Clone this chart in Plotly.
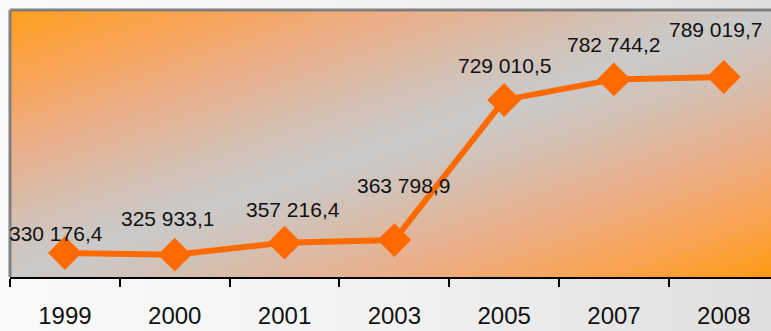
import base64
import plotly.graph_objects as go

years = ["1999", "2000", "2001", "2003", "2005", "2007", "2008"]
values = [330176.4, 325933.1, 357216.4, 363798.9, 729010.5, 782744.2, 789019.7]
labels = ["330 176,4", "325 933,1", "357 216,4", "363 798,9", "729 010,5", "782 744,2", "789 019,7"]
# label offsets (pixels) relative to each point: style only
label_dx = [-9, -7, 8, 9, 0, 0, -8]
label_dy = [20, 36, 33, 55, 35, 35, 47]

ORANGE = "#FF6A00"

def svg_uri(svg):
    return "data:image/svg+xml;base64," + base64.b64encode(svg.encode()).decode()

plot_grad = svg_uri(
    '<svg xmlns="http://www.w3.org/2000/svg" width="770" height="267" preserveAspectRatio="none" viewBox="0 0 770 267">'
    '<defs><linearGradient id="g" x1="0" y1="0" x2="1" y2="1">'
    '<stop offset="0" stop-color="#FFA01C"/>'
    '<stop offset="0.12" stop-color="#FAA350"/>'
    '<stop offset="0.26" stop-color="#EBAE88"/>'
    '<stop offset="0.4" stop-color="#D3C0B3"/>'
    '<stop offset="0.5" stop-color="#CACACA"/>'
    '<stop offset="0.6" stop-color="#D3C0B3"/>'
    '<stop offset="0.74" stop-color="#EBAE88"/>'
    '<stop offset="0.88" stop-color="#FAA350"/>'
    '<stop offset="1" stop-color="#FF9A0E"/>'
    '</linearGradient></defs><rect width="770" height="267" fill="url(#g)"/></svg>'
)
paper_grad = svg_uri(
    '<svg xmlns="http://www.w3.org/2000/svg" width="771" height="331" preserveAspectRatio="none" viewBox="0 0 771 331">'
    '<defs><linearGradient id="p" x1="0" y1="0" x2="1" y2="0">'
    '<stop offset="0" stop-color="#FAFAFA"/>'
    '<stop offset="0.5" stop-color="#F2F2F2"/>'
    '<stop offset="1" stop-color="#DEDEDE"/>'
    '</linearGradient></defs><rect width="771" height="331" fill="url(#p)"/></svg>'
)

fig = go.Figure()
fig.add_trace(go.Scatter(
    x=years, y=values, mode="lines+markers",
    line=dict(color=ORANGE, width=6),
    marker=dict(symbol="diamond", size=26, color=ORANGE),
    hoverinfo="skip", showlegend=False,
))

for i, (v, lab, dx, dy) in enumerate(zip(values, labels, label_dx, label_dy)):
    fig.add_annotation(x=i, y=v, xref="x", yref="y", text=lab, showarrow=False,
                       xshift=dx, yshift=dy,
                       font=dict(family="Liberation Sans, Arial", size=21, color="#111111"))

W, H = 771, 331
L, T, B = 10, 10, 54
pw, ph = W - L, H - T - B

fig.add_layout_image(dict(source=paper_grad, xref="paper", yref="paper",
                          x=-L / pw, y=1 + T / ph, sizex=W / pw, sizey=H / ph,
                          sizing="stretch", xanchor="left", yanchor="top", layer="below"))
fig.add_layout_image(dict(source=plot_grad, xref="paper", yref="paper",
                          x=0, y=1, sizex=770 / pw, sizey=1,
                          sizing="stretch", xanchor="left", yanchor="top", layer="below"))

# grey frame on left and top
fig.add_shape(type="line", xref="paper", yref="paper", x0=0, x1=0, y0=0, y1=1,
              line=dict(color="#808080", width=3))
fig.add_shape(type="line", xref="paper", yref="paper", x0=0, x1=1.02, y0=1, y1=1,
              line=dict(color="#808080", width=3))

fig.update_layout(
    width=W, height=H,
    margin=dict(l=L, r=0, t=T, b=B),
    paper_bgcolor="#F0F0F0", plot_bgcolor="rgba(0,0,0,0)",
    xaxis=dict(type="category", range=[-0.5, 6.43], tickson="boundaries",
               ticks="outside", ticklen=8, tickwidth=2, tickcolor="black",
               showline=True, linecolor="black", linewidth=2, showgrid=False,
               tickfont=dict(family="Liberation Sans, Arial", size=24, color="#111111"),
               ticklabelstandoff=16),
    yaxis=dict(range=[267610, 963610], visible=False, showgrid=False, zeroline=False),
)

fig.write_html("out.html")
